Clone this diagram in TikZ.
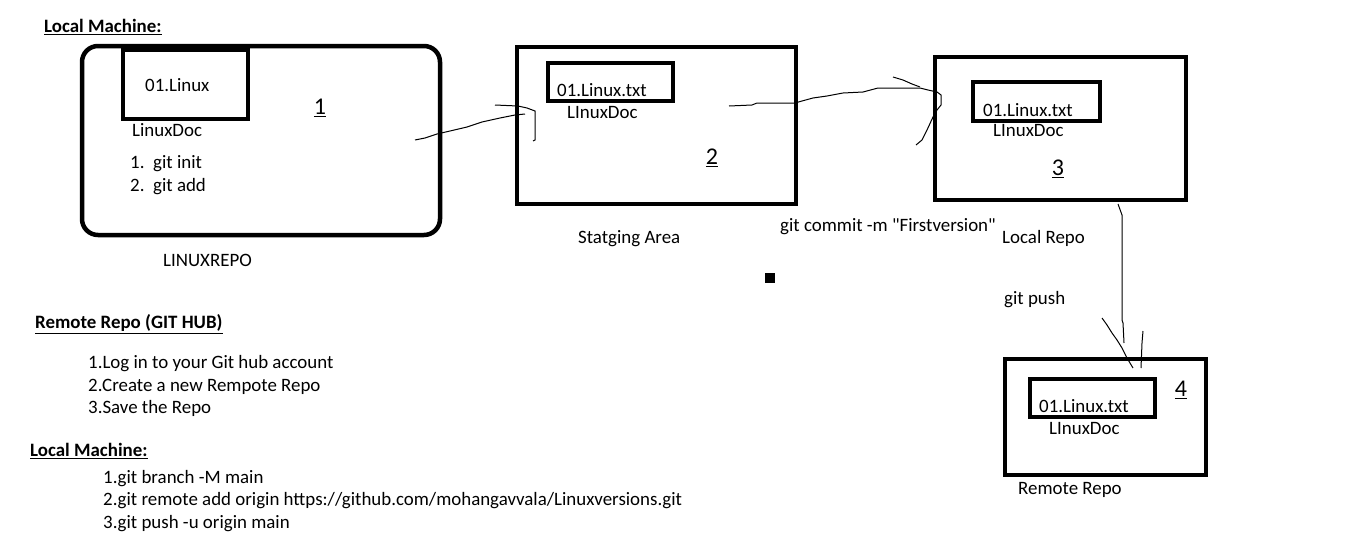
\documentclass[tikz,border=0pt]{standalone}
\usepackage{fontspec}
\setmainfont{Carlito}
\usepackage{tikz}

\begin{document}
\begin{tikzpicture}[x=1pt,y=-1pt,
  txt/.style={anchor=west,inner sep=0pt,yshift=-2pt,font=\fontsize{18.9}{22.8}\selectfont},
  num/.style={inner sep=0pt,yshift=-2pt,font=\fontsize{24}{28}\selectfont},
  area/.style={draw,line width=4.5pt,inner sep=0pt},
  hand/.style={line width=1pt}]

\useasboundingbox (0,0) rectangle (1360,554);

% Define coordinates (ends of the hand drawn strokes)
\coordinate (addfrom) at  (415,140);
\coordinate (addto) at  (525,114);
\coordinate (comfrom) at  (729,106);
\coordinate (comto) at  (937,92);
\coordinate (pushfrom) at  (1118,204);
\coordinate (pushto) at  (1124,343);

% Draw the four areas and the files in them
\node[area,rounded corners=16pt,minimum width=358pt,minimum height=189pt] (work) at (261,140.5) {};
\node[area,minimum width=125pt,minimum height=69pt] (workfile) at (185.5,84.5) {};
\node[area,minimum width=279pt,minimum height=157pt] (stage) at (656.5,125.5) {};
\node[area,minimum width=125pt,minimum height=38pt] (stagefile) at (610.5,82) {};
\node[area,minimum width=251pt,minimum height=143pt] (local) at (1060.5,128.5) {};
\node[area,minimum width=127pt,minimum height=39pt] (localfile) at (1036.5,101.5) {};
\node[area,minimum width=201pt,minimum height=116pt] (remote) at (1105.5,417) {};
\node[area,minimum width=125pt,minimum height=38pt] (remotefile) at (1092.5,398) {};

% Labels inside and under the areas
\node[txt] (head1) at (44,25) {\underline{\textbf{Local Machine:}}};
\node[txt] (wfname) at (145,83) {01.Linux};
\node[num] (n1) at (320,106) {\underline{1}};
\node[txt] (wdoc) at (132,128) {LinuxDoc};
\node[txt] (cmd1) at (130,162) {\makebox[23pt][l]{1.}git init};
\node[txt] (cmd2) at (130,185) {\makebox[23pt][l]{2.}git add};
\node[txt] (wname) at (163,258) {LINUXREPO};

\node[txt] (sfname) at (557,88) {01.Linux.txt};
\node[txt] (sdoc) at (567,111) {LInuxDoc};
\node[num] (n2) at (712,156) {\underline{2}};
\node[txt] (sname) at (578,237) {Statging Area};

\node[txt] (commit) at (780,225) {git commit -m \textquotedbl Firstversion\textquotedbl};
\node[txt] (lfname) at (983,108) {01.Linux.txt};
\node[txt] (ldoc) at (993,129) {LInuxDoc};
\node[num] (n3) at (1058,167) {\underline{3}};
\node[txt] (lname) at (1002,236) {Local Repo};

\node[txt] (push) at (1004,298) {git push};
\node[txt] (rfname) at (1039,404) {01.Linux.txt};
\node[txt] (rdoc) at (1049,427) {LInuxDoc};
\node[num] (n4) at (1181,388) {\underline{4}};
\node[txt] (rname) at (1018,488) {Remote Repo};

\fill (765,273) rectangle (775,283);

% Notes at the bottom left
\node[txt] (head2) at (35,322) {\underline{\textbf{Remote Repo (GIT HUB)}}};
\node[txt,align=left] (steps1) at (88,384) {1.Log in to your Git hub account\\2.Create a new Rempote Repo\\3.Save the Repo};
\node[txt] (head3) at (30,449) {\underline{\textbf{Local Machine:}}};
\node[txt,align=left] (steps2) at (103,499) {1.git branch -M main\\2.git remote add origin https://github.com/mohangavvala/Linuxversions.git\\3.git push -u origin main};

% Draw hand made arrows
\draw[hand] (addfrom) -- (425,138) -- (437,134) -- (450,131) -- (467,127) -- (482,122) -- (500,118) -- (515,115) -- (addto);
\draw[hand] (495,105) -- (518,106) -- (527,108) -- (535,111) -- (535,140) -- (533,141);

\draw[hand] (comfrom) -- (752,105) -- (757,103) -- (795,103) -- (802,101) -- (813,98) -- (827,96) -- (843,93) -- (863,92) -- (878,88) -- (920,88) -- (928,90) -- (comto);
\draw[hand] (893,77) -- (903,80) -- (912,84) -- (920,87);
\draw[hand] (comto) -- (941,95) -- (941,105) -- (937,110);
\draw[hand] (916,145) -- (922,140) -- (927,130) -- (933,117) -- (937,110);

\draw[hand] (pushfrom) -- (1122,215) -- (1122,320) -- (1123,323) -- (pushto);
\draw[hand] (1102,318) -- (1107,325) -- (1112,333) -- (1117,340) -- (1122,348) -- (1127,358) -- (1133,368);
\draw[hand] (1143,331) -- (1142,343) -- (1141,368);

\end{tikzpicture}
\end{document}
